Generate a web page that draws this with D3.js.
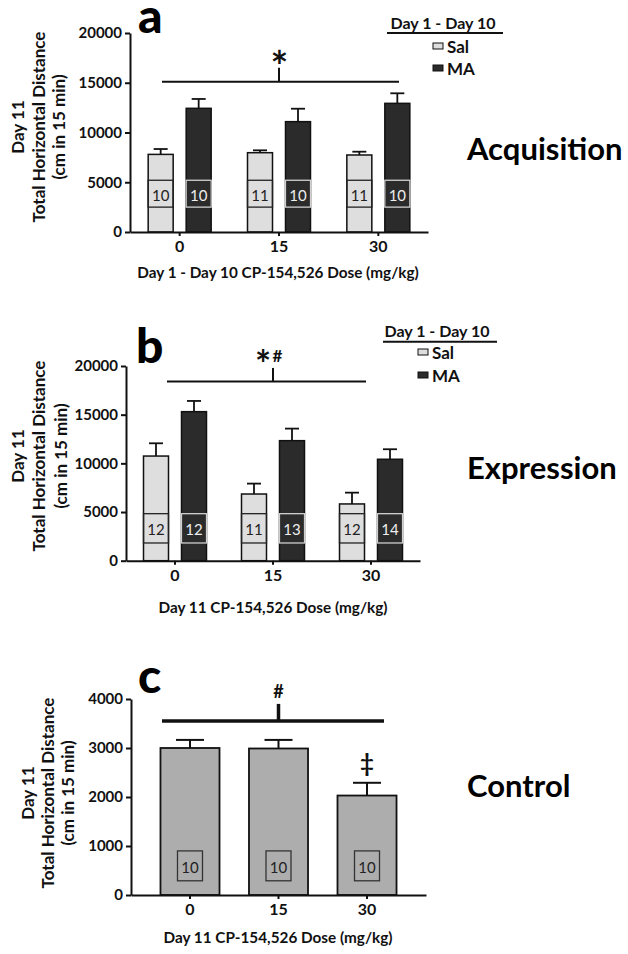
<!DOCTYPE html>
<html><head><meta charset="utf-8">
<script src="https://cdn.jsdelivr.net/npm/d3@7/dist/d3.min.js"></script>
<style>body{margin:0;background:#fff} text{font-family:Lato,"Open Sans",sans-serif}</style>
</head><body><svg id="chart" width="628" height="954"></svg>
<script>
// ---------- data ----------
const doses = ["0", "15", "30"];
const seriesNames = ["Sal", "MA"];
const yTicksAB = [0, 5000, 10000, 15000, 20000];
const yTicksC = [0, 1000, 2000, 3000, 4000];
const yTitleLines = ["Day 11", "Total Horizontal Distance", "(cm in 15 min)"];

// Panel a – Acquisition
const acqSalMean = [7800, 7970, 7740];
const acqSalSem = [540, 240, 330];
const acqMAMean = [12430, 11090, 12930];
const acqMASem = [940, 1300, 1010];
const acqSalN = [10, 11, 11];
const acqMAN = [10, 10, 10];

// Panel b – Expression
const expSalMean = [10750, 6850, 5830];
const expSalSem = [1310, 1070, 1160];
const expMAMean = [15310, 12330, 10420];
const expMASem = [1100, 1240, 1030];
const expSalN = [12, 11, 12];
const expMAN = [12, 13, 14];

// Panel c – Control
const ctlMean = [3000, 2990, 2030];
const ctlSem = [165, 175, 260];
const ctlN = [10, 10, 10];

// ---------- styles ----------
const FONT = "Lato, 'Open Sans', sans-serif";
const colSal = "#dedede", colMA = "#2b2b2b", colCtl = "#adadad";
const svg = d3.select("#chart");

function styleAxis(sel, fs) {
  sel.selectAll("path.domain").attr("stroke", "#111").attr("stroke-width", 2);
  sel.selectAll(".tick line").attr("stroke", "#111").attr("stroke-width", 2);
  sel.selectAll(".tick text").attr("fill", "#111").attr("font-family", FONT)
     .attr("font-weight", 700).attr("font-size", fs);
}

function yTitle(xs, cy) {
  yTitleLines.forEach((t, i) => {
    svg.append("text").attr("transform", `translate(${xs[i]},${cy}) rotate(-90)`)
      .attr("text-anchor", "middle").attr("dominant-baseline", "central")
      .attr("font-weight", 700).attr("font-size", 17).attr("fill", "#111").text(t);
  });
}

function legend(L) {
  svg.append("text").attr("x", L.cx).attr("y", L.ty).attr("text-anchor", "middle")
    .attr("dominant-baseline", "central").attr("font-weight", 700).attr("font-size", 16).attr("fill", "#111").text("Day 1 - Day 10");
  svg.append("line").attr("x1", L.ux[0]).attr("x2", L.ux[1]).attr("y1", L.uy).attr("y2", L.uy)
    .attr("stroke", "#111").attr("stroke-width", 2);
  seriesNames.forEach((s, i) => {
    const yy = L.sy[i];
    svg.append("rect").attr("x", L.sx).attr("y", yy - 3).attr("width", 10).attr("height", 6)
      .attr("fill", s === "Sal" ? colSal : colMA).attr("stroke", "#111").attr("stroke-width", 1);
    svg.append("text").attr("x", L.sx + 14).attr("y", yy).attr("dominant-baseline", "central")
      .attr("font-weight", 700).attr("font-size", 17).attr("fill", "#111").text(s);
  });
}

function sideLabel(txt, x, y) {
  svg.append("text").attr("x", x).attr("y", y).attr("dominant-baseline", "central")
    .attr("font-weight", 700).attr("font-size", 31).attr("fill", "#000").text(txt);
}

function panelLetter(t, x, y) {
  svg.append("text").attr("x", x).attr("y", y).attr("font-weight", 900)
    .attr("font-size", 48).attr("fill", "#000").text(t);
}

function sigText(g, parts) {
  parts.forEach(p => {
    g.append("text").attr("x", p.x).attr("y", p.y).attr("text-anchor", "middle")
      .attr("font-weight", 700).attr("font-size", p.fs).attr("fill", "#111").text(p.t);
  });
}

function groupedPanel(o) {
  const x0 = d3.scaleBand().domain(doses).range(o.xr);
  const x1 = d3.scaleBand().domain(seriesNames).range([-31.5, 31.5]).paddingInner(0.342);
  const y = d3.scaleLinear().domain([0, 20000]).range(o.yr);
  const rows = [];
  doses.forEach((d, i) => {
    rows.push({ dose: d, s: "Sal", m: o.sal[i], e: o.salSem[i], n: o.salN[i] });
    rows.push({ dose: d, s: "MA", m: o.ma[i], e: o.maSem[i], n: o.maN[i] });
  });
  const g = svg.append("g");
  const cx = r => x0(r.dose) + x0.bandwidth() / 2 + x1(r.s);
  rows.forEach(r => {
    const c = cx(r) + x1.bandwidth() / 2;
    g.append("line").attr("x1", c).attr("x2", c).attr("y1", y(r.m)).attr("y2", y(r.m + r.e))
      .attr("stroke", "#111").attr("stroke-width", 1.8);
    g.append("line").attr("x1", c - 7).attr("x2", c + 7).attr("y1", y(r.m + r.e)).attr("y2", y(r.m + r.e))
      .attr("stroke", "#111").attr("stroke-width", 1.8);
  });
  g.selectAll("rect.bar").data(rows).join("rect").attr("class", "bar")
    .attr("x", cx).attr("width", x1.bandwidth())
    .attr("y", r => y(r.m)).attr("height", r => y(0) - y(r.m))
    .attr("fill", r => r.s === "Sal" ? colSal : colMA)
    .attr("stroke", "#111").attr("stroke-width", 1.5);
  g.selectAll("rect.nbox").data(rows).join("rect").attr("class", "nbox")
    .attr("x", cx).attr("width", x1.bandwidth())
    .attr("y", y(o.box[1])).attr("height", y(o.box[0]) - y(o.box[1]))
    .attr("fill", "none").attr("stroke", r => r.s === "Sal" ? "#222" : "#d0d0d0").attr("stroke-width", 1.3);
  g.selectAll("text.n").data(rows).join("text").attr("class", "n")
    .attr("x", r => cx(r) + x1.bandwidth() / 2).attr("y", (y(o.box[0]) + y(o.box[1])) / 2 + 1)
    .attr("text-anchor", "middle").attr("dominant-baseline", "central")
    .attr("font-size", 15).attr("font-weight", 400)
    .attr("fill", r => r.s === "Sal" ? "#222" : "#eee").text(r => r.n);
  g.append("g").attr("transform", `translate(${o.xr[0]},0)`)
    .call(d3.axisLeft(y).tickValues(yTicksAB).tickSize(5).tickPadding(3).tickSizeOuter(0).tickFormat(d3.format("d")))
    .call(s => styleAxis(s, 15));
  g.append("g").attr("transform", `translate(0,${y(0)})`)
    .call(d3.axisBottom(x0).tickSize(4).tickPadding(5).tickSizeOuter(0))
    .call(s => styleAxis(s, 16));
  svg.append("text").attr("x", o.xtx).attr("y", o.xty).attr("text-anchor", "middle")
    .attr("dominant-baseline", "central").attr("font-weight", 700).attr("font-size", 15.3)
    .attr("fill", "#111").text(o.xTitle);
  const sigX = x0("15") + x0.bandwidth() / 2;
  g.append("line").attr("x1", o.sig.x[0]).attr("x2", o.sig.x[1]).attr("y1", y(o.sig.v)).attr("y2", y(o.sig.v))
    .attr("stroke", "#111").attr("stroke-width", 2);
  g.append("line").attr("x1", sigX).attr("x2", sigX).attr("y1", y(o.sig.v)).attr("y2", y(o.sig.top))
    .attr("stroke", "#111").attr("stroke-width", 2);
  sigText(g, o.sig.parts(sigX));
}

// ----- panel a -----
groupedPanel({
  xr: [130, 428], yr: [232, 33],
  sal: acqSalMean, salSem: acqSalSem, salN: acqSalN,
  ma: acqMAMean, maSem: acqMASem, maN: acqMAN,
  box: [2500, 5200],
  xTitle: "Day 1 - Day 10 CP-154,526 Dose (mg/kg)", xtx: 278, xty: 272,
  sig: { x: [162, 399], v: 15100, top: 16500,
         parts: c => [{ t: "*", x: c + 0.5, y: 82, fs: 42 }] }
});
panelLetter("a", 138, 33);
yTitle([17, 38, 58], 127);
legend({ cx: 443, ty: 22, ux: [387, 503], uy: 33, sx: 433, sy: [46, 68] });
sideLabel("Acquisition", 467, 148);

// ----- panel b -----
groupedPanel({
  xr: [126, 420], yr: [560.7, 366],
  sal: expSalMean, salSem: expSalSem, salN: expSalN,
  ma: expMAMean, maSem: expMASem, maN: expMAN,
  box: [1820, 4830],
  xTitle: "Day 11 CP-154,526 Dose (mg/kg)", xtx: 273, xty: 607,
  sig: { x: [167, 366], v: 18400, top: 19800,
         parts: c => [{ t: "*", x: c - 10, y: 378, fs: 38 }, { t: "#", x: c + 4.5, y: 361.5, fs: 17 }] }
});
panelLetter("b", 136, 363);
yTitle([17, 38, 60], 456);
legend({ cx: 437, ty: 330, ux: [383, 497], uy: 341.7, sx: 418, sy: [352, 375] });
sideLabel("Expression", 467, 467);

// ----- panel c -----
(function () {
  const x = d3.scaleBand().domain(doses).range([131, 426]).padding(0.333);
  const y = d3.scaleLinear().domain([0, 4000]).range([895, 699]);
  const rows = doses.map((d, i) => ({ dose: d, m: ctlMean[i], e: ctlSem[i], n: ctlN[i] }));
  const g = svg.append("g");
  rows.forEach(r => {
    const c = x(r.dose) + x.bandwidth() / 2;
    g.append("line").attr("x1", c).attr("x2", c).attr("y1", y(r.m)).attr("y2", y(r.m + r.e))
      .attr("stroke", "#111").attr("stroke-width", 2);
    g.append("line").attr("x1", c - 14).attr("x2", c + 14).attr("y1", y(r.m + r.e)).attr("y2", y(r.m + r.e))
      .attr("stroke", "#111").attr("stroke-width", 2);
  });
  g.selectAll("rect.bar").data(rows).join("rect").attr("class", "bar")
    .attr("x", r => x(r.dose)).attr("width", x.bandwidth())
    .attr("y", r => y(r.m)).attr("height", r => y(0) - y(r.m))
    .attr("fill", colCtl).attr("stroke", "#111").attr("stroke-width", 1.8);
  g.selectAll("rect.nbox").data(rows).join("rect").attr("class", "nbox")
    .attr("x", r => x(r.dose) + x.bandwidth() / 2 - 12.5).attr("width", 25)
    .attr("y", y(900)).attr("height", y(290) - y(900))
    .attr("fill", "none").attr("stroke", "#333").attr("stroke-width", 1.3);
  g.selectAll("text.n").data(rows).join("text").attr("class", "n")
    .attr("x", r => x(r.dose) + x.bandwidth() / 2).attr("y", (y(900) + y(290)) / 2 + 1)
    .attr("text-anchor", "middle").attr("dominant-baseline", "central")
    .attr("font-size", 15).attr("fill", "#222").text(r => r.n);
  g.append("g").attr("transform", `translate(131,0)`)
    .call(d3.axisLeft(y).tickValues(yTicksC).tickSize(5).tickPadding(3).tickSizeOuter(0).tickFormat(d3.format("d")))
    .call(s => styleAxis(s, 15));
  g.append("g").attr("transform", `translate(0,${y(0)})`)
    .call(d3.axisBottom(x).tickSize(4).tickPadding(5).tickSizeOuter(0))
    .call(s => styleAxis(s, 16));
  svg.append("text").attr("x", 278).attr("y", 937).attr("text-anchor", "middle")
    .attr("dominant-baseline", "central").attr("font-weight", 700).attr("font-size", 15.3)
    .attr("fill", "#111").text("Day 11 CP-154,526 Dose (mg/kg)");
  const sx = x("15") + x.bandwidth() / 2;
  g.append("line").attr("x1", 162).attr("x2", 384).attr("y1", y(3551)).attr("y2", y(3551))
    .attr("stroke", "#111").attr("stroke-width", 3.5);
  g.append("line").attr("x1", sx).attr("x2", sx).attr("y1", y(3551)).attr("y2", y(3900))
    .attr("stroke", "#111").attr("stroke-width", 3.5);
  g.append("text").attr("x", sx).attr("y", 691).attr("text-anchor", "middle")
    .attr("dominant-baseline", "central").attr("font-weight", 700).attr("font-size", 18)
    .attr("fill", "#111").text("#");
  const c30 = x("30") + x.bandwidth() / 2;
  g.append("text").attr("x", c30).attr("y", 762).attr("text-anchor", "middle")
    .attr("dominant-baseline", "central").attr("font-weight", 700).attr("font-size", 24)
    .attr("fill", "#111").text("‡");
})();
panelLetter("c", 138, 693);
yTitle([27, 47, 67], 793);
sideLabel("Control", 467, 785);
</script></body></html>
